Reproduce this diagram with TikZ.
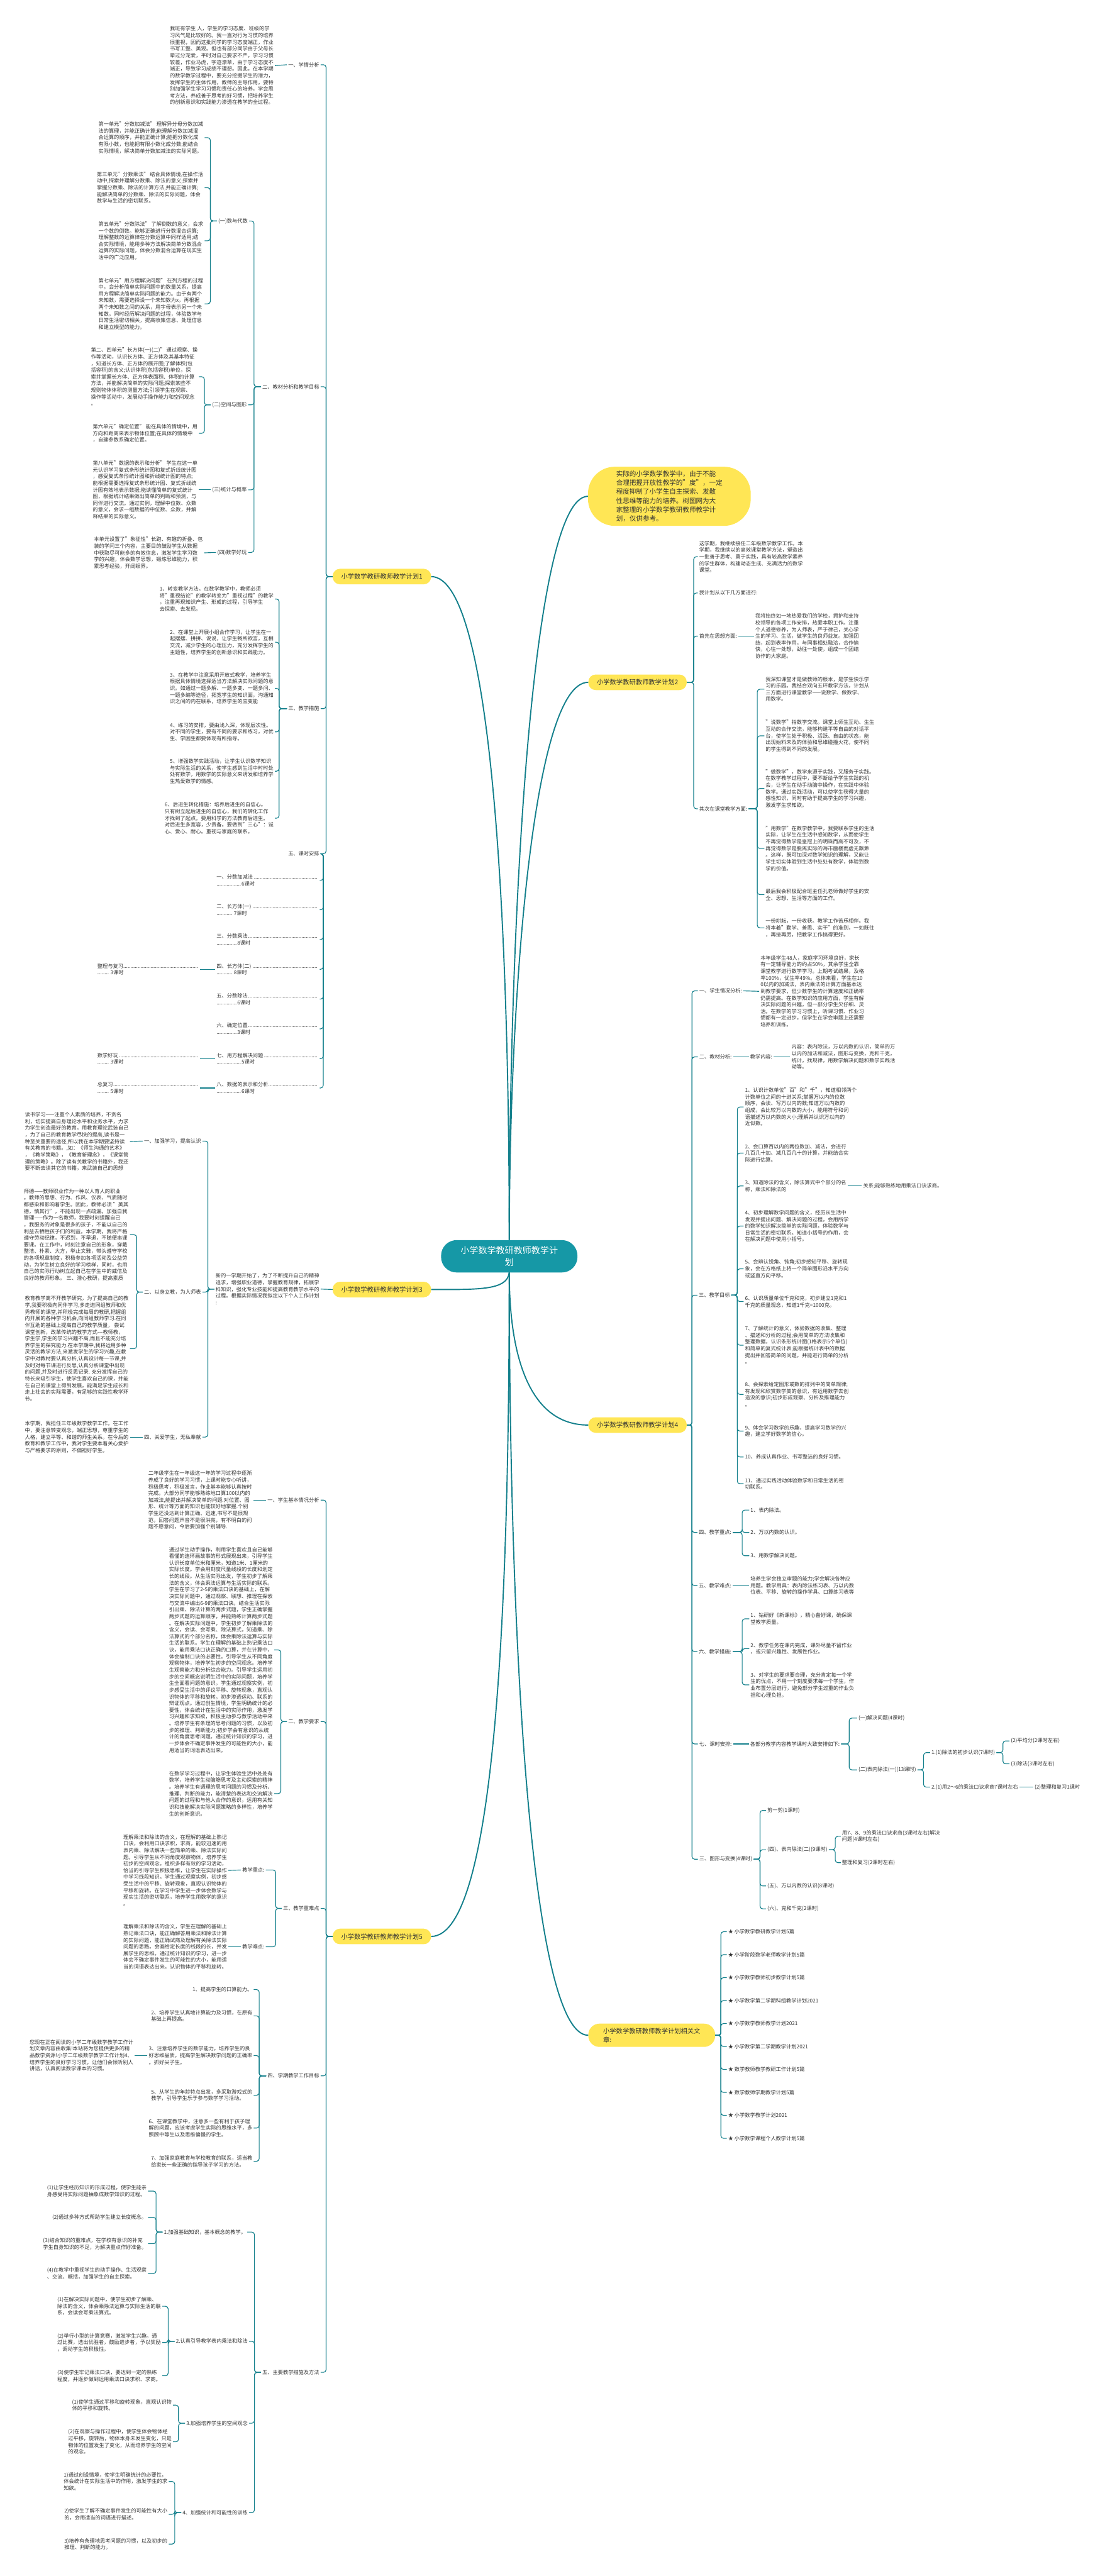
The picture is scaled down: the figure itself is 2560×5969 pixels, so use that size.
\documentclass[tikz,border=0pt]{standalone}
\usepackage{fontspec}
\setmainfont{Noto Sans CJK SC}

\definecolor{hubc}{RGB}{22,152,166}
\definecolor{linkc}{RGB}{20,128,140}
\definecolor{topc}{RGB}{255,230,85}
\definecolor{txtc}{RGB}{51,51,51}

% a row of dots for the lesson plan
\newcommand{\dotrow}[2]{\hbox to #1{#2\leaders\hbox{.}\hfill}}

\begin{document}
\begin{tikzpicture}[
		% one unit is one pixel of the sketch, y runs downwards
		x=1pt, y=-1pt,
		hub/.style={fill=hubc, text=white, rounded corners=36pt, minimum width=316pt, minimum height=75pt, align=center, font=\fontsize{20.5}{27}\selectfont},
		topic/.style={fill=topc, text=txtc, rounded corners=17pt, minimum width=228pt, minimum height=36pt, inner xsep=12pt, font=\fontsize{15}{20}\selectfont},
		blurb/.style={fill=topc, text=txtc, rounded corners=62pt, minimum width=377pt, minimum height=137pt, align=left, font=\fontsize{15.4}{20.7}\selectfont},
		leaf/.style={text=txtc, align=left, inner sep=3pt, font=\fontsize{12}{15.5}\selectfont},
		lleaf/.style={leaf, anchor=east},
		rleaf/.style={leaf, anchor=west},
		spoke/.style={draw=linkc, line width=2.8pt},
		link/.style={draw=linkc, line width=1.7pt, rounded corners=6pt}
		]
		
		\useasboundingbox (0,0) rectangle (2560,5969);
		
		% ==========================================
		% 0. Centre and the main branches
		% ==========================================
		\node[hub] (c) at (1180,2911) {小学数学教研教师教学计\\划};
		
		\node[blurb] (intro) at (1551,1150) {实际的小学数学教学中，由于不能\\合理把握开放性教学的"度"，一定\\程度抑制了小学生自主探索、发散\\性思维等能力的培养。树图网为大\\家整理的小学数学教研教师教学计\\划，仅供参考。};
		
		\node[topic, anchor=east] (p1) at (999,1336) {小学数学教研教师教学计划1};
		\node[topic, anchor=west] (p2) at (1363,1581) {小学数学教研教师教学计划2};
		\node[topic, anchor=east] (p3) at (999,2988) {小学数学教研教师教学计划3};
		\node[topic, anchor=west] (p4) at (1363,3302) {小学数学教研教师教学计划4};
		\node[topic, anchor=east] (p5) at (999,4487) {小学数学教研教师教学计划5};
		\node[topic, anchor=west, align=left, minimum width=294pt, minimum height=54pt, rounded corners=26pt] (p6) at (1363,4716) {小学数学教研教师教学计划相关文\\章:};
		
		\draw[spoke] (c.north) .. controls (1180,2150) and (1230,1150) .. (intro.west);
		\draw[spoke] (c.north) .. controls (1180,2250) and (1150,1336) .. (p1.east);
		\draw[spoke] (c.north) .. controls (1180,2350) and (1230,1581) .. (p2.west);
		\draw[spoke] (c.south) .. controls (1175,2990) and (1110,2988) .. (p3.east);
		\draw[spoke] (c.south) .. controls (1180,3150) and (1230,3302) .. (p4.west);
		\draw[spoke] (c.south) .. controls (1180,3700) and (1150,4487) .. (p5.east);
		\draw[spoke] (c.south) .. controls (1180,3800) and (1230,4716) .. (p6.west);
		
		% ==========================================
		% 1. Plan 1 (left, top)
		% ==========================================
		\node[lleaf] (p1a) at (743,150) {一、学情分析};
		\node[lleaf] (p1a1) at (637,152) {我班有学生 人，学生的学习态度、班级的学\\习风气是比较好的。我一直对行为习惯的培养\\很重视，因而这批同学的学习态度端正，作业\\书写工整、美观。但也有部分同学由于父母长\\辈过分宠爱，平时对自己要求不严，学习习惯\\较差，作业马虎，字迹潦草，由于学习态度不\\端正，导致学习成绩不理想。因此，在本学期\\的数学教学过程中，要充分挖掘学生的潜力，\\发挥学生的主体作用，教师的主导作用，要特\\别加强学生学习习惯和责任心的培养，学会思\\考方法，养成善于思考的好习惯，把培养学生\\的创新意识和实践能力渗透在教学的全过程。};
		\draw[link] (p1a.west) -- (p1a1.east);
		
		\node[lleaf] (p1b) at (743,896) {二、教材分析和教学目标};
		\node[lleaf] (p1b1) at (577,512) {(一)数与代数};
		\node[lleaf] (p1b1a) at (474,319) {第一单元"分数加减法" 理解异分母分数加减\\法的算理，并能正确计算;能理解分数加减混\\合运算的顺序，并能正确计算;能把分数化成\\有限小数，也能把有限小数化成分数;能结合\\实际情境，解决简单分数加减法的实际问题。};
		\node[lleaf] (p1b1b) at (474,435) {第三单元"分数乘法" 结合具体情境,在操作活\\动中,探索并理解分数乘、除法的意义;探索并\\掌握分数乘、除法的计算方法,并能正确计算;\\能解决简单的分数乘、除法的实际问题，体会\\数学与生活的密切联系。};
		\node[lleaf] (p1b1c) at (474,558) {第五单元"分数除法" 了解倒数的意义，会求\\一个数的倒数。能够正确进行分数混合运算;\\理解整数的运算律在分数运算中同样适用;结\\合实际情境，能用多种方法解决简单分数混合\\运算的实际问题，体会分数混合运算在现实生\\活中的广泛应用。};
		\node[lleaf] (p1b1d) at (474,704) {第七单元"用方程解决问题" 在列方程的过程\\中，会分析简单实际问题中的数量关系，提高\\用方程解决简单实际问题的能力。由于有两个\\未知数，需要选择设一个未知数为x，再根据\\两个未知数之间的关系，用字母表示另一个未\\知数。同时经历解决问题的过程，体验数学与\\日常生活密切相关，提高收集信息、处理信息\\和建立模型的能力。};
		\node[lleaf] (p1b2) at (575,938) {(二)空间与图形};
		\node[lleaf] (p1b2a) at (461,873) {第二、四单元"长方体(一)(二)" 通过观察、操\\作等活动，认识长方体、正方体及其基本特征\\，知道长方体、正方体的展开图;了解体积(包\\括容积)的含义;认识体积(包括容积)单位，探\\索并掌握长方体、正方体表面积、体积的计算\\方法，并能解决简单的实际问题;探索某些不\\规则物体体积的测量方法;引领学生在观察、\\操作等活动中，发展动手操作能力和空间观念\\。};
		\node[lleaf] (p1b2b) at (461,1004) {第六单元"确定位置" 能在具体的情境中，用\\方向和距离来表示物体位置;在具体的情境中\\，自建参数系确定位置。};
		\node[lleaf] (p1b3) at (575,1135) {(三)统计与概率};
		\node[lleaf] (p1b3a) at (461,1135) {第八单元"数据的表示和分析" 学生在这一单\\元认识学习复式条形统计图和复式折线统计图\\，感受复式条形统计图和折线统计图的特点;\\能根据需要选择复式条形统计图、复式折线统\\计图有效地表示数据;能读懂简单的复式统计\\图，根据统计结果做出简单的判断和预测，与\\同伴进行交流。通过实例，理解中位数、众数\\的意义，会求一组数据的中位数、众数，并解\\释结果的实际意义。};
		\node[lleaf] (p1b4) at (575,1280) {(四)数学好玩};
		\node[lleaf] (p1b4a) at (473,1281) {本单元设置了"象征性"长跑、有趣的折叠、包\\装的学问三个内容，主要目的鼓励学生从数据\\中获取尽可能多的有效信息，激发学生学习数\\学的兴趣，体会数学思想，锻炼思维能力，积\\累思考经验，开阔眼界。};
		\foreach \n in {p1b1,p1b2,p1b3,p1b4}
			\draw[link] (p1b.west) -- ++(-16,0) |- (\n.east);
		\foreach \n in {p1b1a,p1b1b,p1b1c,p1b1d}
			\draw[link] (p1b1.west) -- ++(-15,0) |- (\n.east);
		\foreach \n in {p1b2a,p1b2b}
			\draw[link] (p1b2.west) -- ++(-15,0) |- (\n.east);
		\draw[link] (p1b3.west) -- (p1b3a.east);
		\draw[link] (p1b4.west) -- (p1b4a.east);
		
		\node[lleaf] (p1c) at (743,1642) {三、教学措施};
		\node[lleaf] (p1c1) at (637,1388) {1、转变教学方法。在数学教学中，教师必须\\将"重视结论"的教学转变为"重视过程"的教学\\，注重再现知识产生、形成的过程，引导学生\\去探索、去发现。};
		\node[lleaf] (p1c2) at (637,1488) {2、在课堂上开展小组合作学习，让学生在一\\起摆摆、拼拼、说说，让学生畅所欲言，互相\\交流，减少学生的心理压力，充分发挥学生的\\主题性，培养学生的创新意识和实践能力。};
		\node[lleaf] (p1c3) at (637,1595) {3、在教学中注意采用开放式教学，培养学生\\根据具体情境选择适当方法解决实际问题的意\\识。如通过一题多解、一题多变、一题多问、\\一题多编等途径，拓宽学生的知识面，沟通知\\识之间的内在联系，培养学生的应变能};
		\node[lleaf] (p1c4) at (637,1696) {4、练习的安排，要由浅入深，体现层次性。\\对不同的学生，要有不同的要求和练习，对优\\生、学困生都要体现有所指导。};
		\node[lleaf] (p1c5) at (637,1787) {5、增强数学实践活动，让学生认识数学知识\\与实际生活的关系，使学生感到生活中时时处\\处有数学，用数学的实际意义来诱发和培养学\\生热爱数学的情感。};
		\node[lleaf] (p1c6) at (637,1896) {6、后进生转化措施：培养后进生的自信心。\\只有树立起后进生的自信心，我们的转化工作\\才找到了起点。要用科学的方法教育后进生。\\对后进生多宽容，少责备。要做到"三心"：诚\\心、爱心、耐心。重视与家庭的联系。};
		\foreach \k in {1,...,6}
			\draw[link] (p1c.west) -- ++(-18,0) |- (p1c\k.east);
		
		\node[lleaf] (p1e) at (743,1978) {五、课时安排};
		\node[lleaf] (p1e1) at (741,2040) {\dotrow{236pt}{一、分数加减法}\\\dotrow{58pt}{}6课时};
		\node[lleaf] (p1e2) at (741,2108) {\dotrow{236pt}{二、长方体(一)}\\\dotrow{40pt}{}7课时};
		\node[lleaf] (p1e3) at (741,2177) {\dotrow{236pt}{三、分数乘法}\\\dotrow{48pt}{}8课时};
		\node[lleaf] (p1e4) at (741,2246) {\dotrow{236pt}{四、长方体(二)}\\\dotrow{40pt}{}8课时};
		\node[lleaf] (p1e5) at (741,2315) {\dotrow{236pt}{五、分数除法}\\\dotrow{48pt}{}6课时};
		\node[lleaf] (p1e6) at (741,2384) {\dotrow{236pt}{六、确定位置}\\\dotrow{48pt}{}3课时};
		\node[lleaf] (p1e7) at (741,2453) {\dotrow{236pt}{七、用方程解决问题}\\\dotrow{58pt}{}5课时};
		\node[lleaf] (p1e8) at (741,2521) {\dotrow{236pt}{八、数据的表示和分析}\\\dotrow{58pt}{}6课时};
		\node[lleaf] (p1e4a) at (463,2246) {\dotrow{234pt}{整理与复习}\\\dotrow{30pt}{}3课时};
		\node[lleaf] (p1e7a) at (463,2453) {\dotrow{234pt}{数学好玩}\\\dotrow{30pt}{}3课时};
		\node[lleaf] (p1e8a) at (463,2521) {\dotrow{234pt}{总复习}\\\dotrow{30pt}{}5课时};
		\foreach \k in {1,...,8}
			\draw[link] (p1e.east) -- ++(6,0) |- (p1e\k.east);
		\foreach \k in {4,7,8}
			\draw[link] (p1e\k.west) -- (p1e\k a.east);
		
		\foreach \n in {p1a,p1b,p1c,p1e}
			\draw[link] (p1.west) -- ++(-15,0) |- (\n.east);
		
		% ==========================================
		% 2. Plan 2 (right, top)
		% ==========================================
		\node[rleaf] (p2a) at (1617,1290) {这学期，我继续接任二年级数学教学工作。本\\学期，我继续以的高效课堂教学方法，塑造出\\一批善于思考、勇于实践，具有较高数学素养\\的学生群体，构建动态生成、充满活力的数学\\课堂。};
		\node[rleaf] (p2b) at (1617,1374) {我计划从以下几方面进行:};
		\node[rleaf] (p2c) at (1617,1474) {首先在思想方面:};
		\node[rleaf] (p2c1) at (1747,1474) {我将始终如一地热爱我们的学校，拥护和支持\\校领导的各项工作安排，热爱本职工作。注重\\个人道德修养，为人师表，严于律己，关心学\\生的学习、生活，做学生的良师益友。加强团\\结，起到表率作用，与同事相处融洽，合作愉\\快，心往一处想，劲往一处使，组成一个团结\\协作的大家庭。};
		\draw[link] (p2c.east) -- (p2c1.west);
		\node[rleaf] (p2d) at (1617,1874) {其次在课堂教学方面:};
		\node[rleaf] (p2d1) at (1771,1597) {我深知课堂才是做教师的根本，是学生快乐学\\习的乐园。我结合双向五环教学方法，计划从\\三方面进行课堂教学——说数学、做数学、\\用数学。};
		\node[rleaf] (p2d2) at (1771,1705) {"说数学"指数学交流。课堂上师生互动、生生\\互动的合作交流，能够构建平等自由的对话平\\台，使学生处于积极、活跃、自由的状态，能\\出现始料未及的体验和思维碰撞火花，使不同\\的学生得到不同的发展。};
		\node[rleaf] (p2d3) at (1771,1827) {"做数学"，数学来源于实践，又服务于实践。\\在数学教学过程中，要不断给予学生实践的机\\会，让学生在动手动脑中操作，在实践中体验\\数学。通过实践活动，可以使学生获得大量的\\感性知识，同时有助于提高学生的学习兴趣，\\激发学生求知欲。};
		\node[rleaf] (p2d4) at (1771,1966) {"用数学"在数学教学中，我要联系学生的生活\\实际，让学生在生活中感知数学，从而使学生\\不再觉得数学是皇冠上的明珠而高不可及，不\\再觉得数学是脱离实际的海市蜃楼而虚无飘渺\\。这样，既可加深对数学知识的理解，又能让\\学生切实体验到生活中处处有数学，体验到数\\学的价值。};
		\node[rleaf] (p2d5) at (1771,2073) {最后我会积极配合班主任孔老师做好学生的安\\全、思想、生活等方面的工作。};
		\node[rleaf] (p2d6) at (1771,2150) {一份耕耘，一份收获。教学工作苦乐相伴。我\\将本着"勤学、善思、实干"的准则，一如既往\\，再接再厉，把教学工作搞得更好。};
		\foreach \k in {1,...,6}
			\draw[link] (p2d.east) -- ++(20,0) |- (p2d\k.west);
		
		\foreach \n in {p2a,p2b,p2c,p2d}
			\draw[link] (p2.east) -- ++(16,0) |- (\n.west);
		
		% ==========================================
		% 3. Plan 3 (left, middle)
		% ==========================================
		\node[lleaf] (p3a) at (743,2987) {新的一学期开始了，为了不断提升自己的精神\\追求，增强职业道德，掌握教育规律，拓展学\\科知识，强化专业技能和提高教育教学水平的\\过程。根据实际情况我拟定以下个人工作计划\\:};
		\draw[link] (p3.west) -- (p3a.east);
		
		\node[lleaf] (p3b) at (469,2644) {一、加强学习，提高认识};
		\node[lleaf] (p3b1) at (301,2645) {读书学习——注重个人素质的培养，不贪名\\利，切实提高自身理论水平和业务水平，力求\\为学生创造最好的教育。用教育理论武装自己\\，为了自己的教育教学尽快的提高,读书是一\\种至关重要的途径,所以我在本学期要坚持读\\有关教育的书籍。,如：《师生沟通的艺术》\\，《教学策略》，《教育新理念》，《课堂管\\理的策略》。除了读有关教学的书籍外，我还\\要不断去读其它的书籍，来武装自己的思想};
		\draw[link] (p3b.west) -- (p3b1.east);
		
		\node[lleaf] (p3c) at (469,2994) {二、以身立教，为人师表};
		\node[lleaf] (p3c1) at (301,2861) {师德——教师职业作为一种以人育人的职业\\。教师的思想、行为、作风、仪表、气质随时\\都感染和影响着学生。因此，教师必须 "美其\\德，慎其行"，不能出现一点疏漏。加强自我\\管理——作为一名教师，我要时刻提醒自己\\，我服务的对象是很多的孩子，不能以自己的\\利益去牺牲孩子们的利益。本学期，我将严格\\遵守劳动纪律，不迟到，不早退，不随便串课\\要课。在工作中，时刻注意自己的形象，穿戴\\整洁、朴素、大方，举止文雅，带头遵守学校\\的各项规章制度，积极参加各项活动及公益劳\\动，为学生树立良好的学习榜样，同时，也用\\自己的实际行动树立起自己在学生中的威信及\\良好的教师形象。 三、潜心教研，提高素质};
		\node[lleaf] (p3c2) at (301,3125) {教育教学离不开教学研究，为了提高自己的教\\学,我要积极向同伴学习,多走进同组教师和优\\秀教师的课堂,并积极完成每周的教研,把握组\\内开展的各种学习机会,向同组教师学习.在同\\伴互助的基础上提高自己的教学质量， 尝试\\课堂创新，改革传统的教学方式{-}{-}{-}教师教，\\学生学,学生的学习兴趣不高,而且不能充分培\\养学生的探究能力.在本学期中,我将运用多种\\灵活的教学方法,来激发学生的学习兴趣,在教\\学中对教材要认真分析,认真设计每一节课,并\\及时对每节课进行反思,认真分析课堂中出现\\的问题,并及时进行反思记录. 充分发挥自己的\\特长来吸引学生，使学生喜欢自己的课，并能\\在自己的课堂上得到发展，能满足学生成长和\\走上社会的实际需要，有足够的实践性教学环\\节。};
		\foreach \n in {p3c1,p3c2}
			\draw[link] (p3c.west) -- ++(-14,0) |- (\n.east);
		
		\node[lleaf] (p3d) at (469,3330) {四、关爱学生，无私奉献};
		\node[lleaf] (p3d1) at (301,3330) {本学期，我担任三年级数学教学工作。在工作\\中，要注意转变观念，端正思想，尊重学生的\\人格，建立平等、和谐的师生关系。在今后的\\教育和教学工作中，我对学生要本着关心爱护\\与严格要求的原则，不偏袒好学生。};
		\draw[link] (p3d.west) -- (p3d1.east);
		
		\foreach \n in {p3b,p3c,p3d}
			\draw[link] (p3a.west) -- ++(-15,0) |- (\n.east);
		
		% ==========================================
		% 4. Plan 4 (right, middle)
		% ==========================================
		\node[rleaf] (p4a) at (1617,2296) {一、学生情况分析:};
		\node[rleaf] (p4a1) at (1759,2297) {本年级学生48人，家庭学习环境良好，家长\\有一定辅导能力的约占50\%，其余学生全靠\\课堂教学进行数学学习。上期考试结果，及格\\率100\%，优生率49\%。总体来看，学生在10\\0以内的加减法，表内乘法的计算方面基本达\\到教学要求，但少数学生的计算速度和正确率\\仍需提高。在数学知识的应用方面，学生有解\\决实际问题的兴趣，但一部分学生欠仔细、灵\\活。在数学的学习习惯上，听课习惯、作业习\\惯都有一定进步，但学生在学会审题上还需要\\培养和训练。};
		\draw[link] (p4a.east) -- (p4a1.west);
		
		\node[rleaf] (p4b) at (1617,2449) {二、教材分析:};
		\node[rleaf] (p4b1) at (1735,2449) {教学内容:};
		\node[rleaf] (p4b2) at (1831,2449) {内容：表内除法，万以内数的认识，简单的万\\以内的加法和减法，图形与变换，克和千克，\\统计，找规律，用数学解决问题和数学实践活\\动等。};
		\draw[link] (p4b.east) -- (p4b1.west);
		\draw[link] (p4b1.east) -- (p4b2.west);
		
		\node[rleaf] (p4c) at (1616,3001) {三、教学目标};
		\node[rleaf] (p4c1) at (1723,2565) {1、认识计数单位"百"和"千"，知道相邻两个\\计数单位之间的十进关系;掌握万以内的位数\\顺序，会读、写万以内的数;知道万以内数的\\组成，会比较万以内数的大小，能用符号和词\\语描述万以内数的大小;理解并认识万以内的\\近似数。};
		\node[rleaf] (p4c2) at (1723,2672) {2、会口算百以内的两位数加、减法，会进行\\几百几十加、减几百几十的计算，并能结合实\\际进行估算。};
		\node[rleaf] (p4c3) at (1723,2748) {3、知道除法的含义，除法算式中个部分的名\\称，乘法和除法的};
		\node[rleaf] (p4c3a) at (1997,2748) {关系;能够熟练地用乘法口诀求商。};
		\node[rleaf] (p4c4) at (1723,2841) {4、初步理解数学问题的含义，经历从生活中\\发现并提出问题、解决问题的过程，会用所学\\的数学知识解决简单的实际问题，体验数学与\\日常生活的密切联系。知道小括号的作用，会\\在解决问题中使用小括号。};
		\node[rleaf] (p4c5) at (1723,2940) {5、会辨认锐角、钝角;初步感知平移、旋转现\\象，会在方格纸上将一个简单图形沿水平方向\\或竖直方向平移。};
		\node[rleaf] (p4c6) at (1723,3016) {6、认识质量单位千克和克，初步建立1克和1\\千克的质量观念，知道1千克=1000克。};
		\node[rleaf] (p4c7) at (1723,3117) {7、了解统计的意义，体验数据的收集、整理\\、描述和分析的过程;会用简单的方法收集和\\整理数据，认识条形统计图(1格表示5个单位)\\和简单的复式统计表;能根据统计表中的数据\\提出并回答简单的问题，并能进行简单的分析\\。};
		\node[rleaf] (p4c8) at (1723,3231) {8、会探索给定图形或数的排列中的简单规律;\\有发现和欣赏数学美的意识，有运用数学去创\\造没的意识;初步形成观察、分析及推理能力\\。};
		\node[rleaf] (p4c9) at (1723,3316) {9、体会学习数学的乐趣，提高学习数学的兴\\趣，建立学好数学的信心。};
		\node[rleaf] (p4c10) at (1723,3376) {10、养成认真作业、书写整洁的良好习惯。};
		\node[rleaf] (p4c11) at (1723,3438) {11、通过实践活动体验数学和日常生活的密\\切联系。};
		\foreach \k in {1,...,11}
			\draw[link] (p4c.east) -- ++(14,0) |- (p4c\k.west);
		\draw[link] (p4c3.east) -- (p4c3a.west);
		
		\node[rleaf] (p4d) at (1616,3551) {四、教学重点:};
		\node[rleaf] (p4d1) at (1736,3499) {1、表内除法。};
		\node[rleaf] (p4d2) at (1736,3551) {2、万以内数的认识。};
		\node[rleaf] (p4d3) at (1736,3605) {3、用数学解决问题。};
		\foreach \k in {1,2,3}
			\draw[link] (p4d.east) -- ++(22,0) |- (p4d\k.west);
		
		\node[rleaf] (p4e) at (1616,3674) {五、教学难点:};
		\node[rleaf] (p4e1) at (1736,3674) {培养生学会独立审题的能力;学会解决各种应\\用题。教学用具：表内除法练习表、万以内数\\位表、平移、旋转的操作学具、口算练习表等};
		\draw[link] (p4e.east) -- (p4e1.west);
		
		\node[rleaf] (p4f) at (1616,3827) {六、教学措施:};
		\node[rleaf] (p4f1) at (1736,3751) {1、钻研好《新课标》，精心备好课，确保课\\堂教学质量。};
		\node[rleaf] (p4f2) at (1736,3820) {2、教学任务在课内完成，课外尽量不留作业\\，或只留兴趣性、发展性作业。};
		\node[rleaf] (p4f3) at (1736,3904) {3、对学生的要求要合理，充分肯定每一个学\\生的优点，不用一个刻度要求每一个学生，作\\业布置分层进行，避免部分学生过重的作业负\\担和心理负担。};
		\foreach \k in {1,2,3}
			\draw[link] (p4f.east) -- ++(22,0) |- (p4f\k.west);
		
		\node[rleaf] (p4g) at (1617,4041) {七、课时安排:};
		\node[rleaf] (p4g1) at (1735,4041) {各部分教学内容教学课时大致安排如下:};
		\node[rleaf] (p4g1a) at (1986,3981) {(一)解决问题(4课时)};
		\node[rleaf] (p4g1b) at (1986,4101) {(二)表内除法(一)(13课时)};
		\node[rleaf] (p4g1b1) at (2155,4061) {1.(1)除法的初步认识(7课时)};
		\node[rleaf] (p4g1b1a) at (2339,4034) {(2)平均分(2课时左右)};
		\node[rleaf] (p4g1b1b) at (2339,4087) {(3)除法(3课时左右)};
		\node[rleaf] (p4g1b2) at (2155,4141) {2.(1)用2～6的乘法口诀求商7课时左右};
		\node[rleaf] (p4g1b2a) at (2394,4141) {(2)整理和复习1课时};
		\draw[link] (p4g.east) -- (p4g1.west);
		\foreach \n in {p4g1a,p4g1b}
			\draw[link] (p4g1.east) -- ++(19,0) |- (\n.west);
		\foreach \n in {p4g1b1,p4g1b2}
			\draw[link] (p4g1b.east) -- ++(14,0) |- (\n.west);
		\foreach \n in {p4g1b1a,p4g1b1b}
			\draw[link] (p4g1b1.east) -- ++(15,0) |- (\n.west);
		\draw[link] (p4g1b2.east) -- (p4g1b2a.west);
		
		\node[rleaf] (p4h) at (1617,4308) {三、图形与变换(4课时)};
		\node[rleaf] (p4h1) at (1775,4195) {剪一剪(1课时)};
		\node[rleaf] (p4h2) at (1775,4286) {(四)、表内除法(二)(9课时)};
		\node[rleaf] (p4h3) at (1775,4370) {(五)、万以内数的认识(8课时)};
		\node[rleaf] (p4h4) at (1775,4423) {(六)、克和千克(2课时)};
		\node[rleaf] (p4h2a) at (1948,4255) {用7、8、9的乘法口诀求商(3课时左右)解决\\问题(4课时左右)};
		\node[rleaf] (p4h2b) at (1948,4316) {整理和复习(2课时左右)};
		\foreach \k in {1,...,4}
			\draw[link] (p4h.east) -- ++(15,0) |- (p4h\k.west);
		\foreach \n in {p4h2a,p4h2b}
			\draw[link] (p4h2.east) -- ++(15,0) |- (\n.west);
		
		\foreach \n in {p4a,p4b,p4c,p4d,p4e,p4f,p4g,p4h}
			\draw[link] (p4.east) -- ++(12,0) |- (\n.west);
		
		% ==========================================
		% 5. Plan 5 (left, bottom)
		% ==========================================
		\node[lleaf] (p5a) at (743,3476) {一、学生基本情况分析};
		\node[lleaf] (p5a1) at (587,3476) {二年级学生在一年级这一年的学习过程中逐渐\\养成了良好的学习习惯，上课时能专心听讲，\\积极思考，积极发言，作业基本能够认真按时\\完成。大部分同学能够熟练地口算100以内的\\加减法,能提出并解决简单的问题.对位置、图\\形、统计等方面的知识也能较好地掌握.个别\\学生还没达到计算正确、迅速,书写不是很规\\范，回答问题声音不是很洪亮，有不明白的问\\题不愿意问，今后要加强个别辅导.};
		\draw[link] (p5a.west) -- (p5a1.east);
		
		\node[lleaf] (p5b) at (743,3989) {二、教学要求};
		\node[lleaf] (p5b1) at (635,3823) {通过学生动手操作，利用学生喜欢且自己能够\\看懂的连环画故事的形式展现出来，引导学生\\认识长度单位米和厘米，知道1米、1厘米的\\实际长度。学会用刻度尺量线段的长度和划定\\长的线段。从生活实际出发，学生初步了解乘\\法的含义，体会乘法运算与生活实际的联系。\\学生在学习了2-5的乘法口诀的基础上，在解\\决实际问题中，通过观察、联想、推理在探索\\与交流中编出6-9的乘法口诀。结合生活实际\\引出乘、除法计算的两步式题，学生正确掌握\\两步式题的运算顺序，并能熟练计算两步式题\\。在解决实际问题中，学生初步了解乘除法的\\含义，会读、会写乘、除法算式，知道乘、除\\法算式的个部分名称，体会乘除法运算与实际\\生活的联系。学生在理解的基础上熟记乘法口\\诀，能用乘法口诀正确的口算，并在计算中，\\体会编制口诀的必要性。引导学生从不同角度\\观察物体，培养学生初步的空间观念。培养学\\生观察能力和分析综合能力。引导学生运用初\\步的空间概念说明生活中的实际问题，培养学\\生全面看问题的意识。学生通过观察实例，初\\步感受生活中的评议平移、旋转现象，直观认\\识物体的平移和旋转。初步渗透运动、联系的\\辩证观点。通过创生情境，学生明确统计的必\\要性，体会统计在生活中的实际作用，激发学\\习兴趣和求知欲，积极主动参与教学活动中来\\。培养学生有条理的思考问题的习惯，以及初\\步的推理、判断能力;初步学会有意识的从统\\计的角度思考问题。通过统计知识的学习，进\\一步体会不确定事件发生的可能性的大小，能\\用适当的词语表达出来。};
		\node[lleaf] (p5b2) at (635,4156) {在数学学习过程中，让学生体验生活中处处有\\数学，培养学生动脑筋思考及主动探索的精神\\。培养学生有调理的思考问题的习惯及分析、\\推理、判断的能力，能清楚的表达和交流解决\\问题的过程和与他人合作的意识，运用有关知\\识和技能解决实际问题策略的多样性，培养学\\生的创新意识。};
		\foreach \n in {p5b1,p5b2}
			\draw[link] (p5b.west) -- ++(-14,0) |- (\n.east);
		
		\node[lleaf] (p5c) at (743,4422) {三、教学重难点};
		\node[lleaf] (p5c1) at (616,4333) {教学重点:};
		\node[lleaf] (p5c1a) at (529,4334) {理解乘法和除法的含义，在理解的基础上熟记\\口诀，会利用口诀求积，求商，能较迅速的用\\表内乘、除法解决一些简单的乘、除法实际问\\题。引导学生从不同角度观察物体，培养学生\\初步的空间观念。组织多样有效的学习活动，\\恰当的引导学生积极思维，让学生在实际操作\\中学习线段知识。学生通过观察实例，初步感\\受生活中的平移、旋转现象，直观认识物体的\\平移和旋转。在学习中学生进一步体会数学与\\现实生活的密切联系，培养学生用数学的意识\\。};
		\node[lleaf] (p5c2) at (616,4511) {教学难点:};
		\node[lleaf] (p5c2a) at (529,4511) {理解乘法和除法的含义，学生在理解的基础上\\熟记乘法口诀，能正确解答用乘法和除法计算\\的实际问题，能正确试商及理解有关除法实际\\问题的思路。会画给定长度的线段的长，并发\\展学生的思维。通过统计知识的学习，进一步\\体会不确定事件发生的可能性的大小，能用适\\当的词语表达出来。认识物体的平移和旋转。};
		\foreach \n in {p5c1,p5c2}
			\draw[link] (p5c.west) -- ++(-14,0) |- (\n.east);
		\draw[link] (p5c1.west) -- (p5c1a.east);
		\draw[link] (p5c2.west) -- (p5c2a.east);
		
		\node[lleaf] (p5d) at (743,4810) {四、学期教学工作目标};
		\node[lleaf] (p5d1) at (588,4610) {1、提高学生的口算能力。};
		\node[lleaf] (p5d2) at (588,4671) {2、培养学生认真地计算能力及习惯，在原有\\基础上再提高。};
		\node[lleaf] (p5d3) at (588,4763) {3、注意培养学生的数学能力，培养学生的良\\好思维品质，提高学生解决数学问题的正确率\\。抓好尖子生。};
		\node[lleaf] (p5d4) at (588,4855) {5、从学生的年龄特点出发，多采取游戏式的\\教学，引导学生乐于参与数学学习活动。};
		\node[lleaf] (p5d5) at (588,4931) {6、在课堂教学中，注意多一些有利于孩子理\\解的问题，应该考虑学生实际的思维水平，多\\照顾中等生以及思维偏慢的学生。};
		\node[lleaf] (p5d6) at (588,5008) {7、加强家庭教育与学校教育的联系，适当教\\给家长一些正确的指导孩子学习的方法。};
		\node[lleaf] (p5d3a) at (312,4763) {您现在正在阅读的小学二年级数学教学工作计\\划文章内容由收集!本站将为您提供更多的精\\品教学资源!小学二年级数学教学工作计划4、\\培养学生的良好学习习惯，让他们会倾听别人\\讲话，认真阅读数学课本的习惯。};
		\foreach \k in {1,...,6}
			\draw[link] (p5d.west) -- ++(-16,0) |- (p5d\k.east);
		\draw[link] (p5d3.west) -- (p5d3a.east);
		
		\node[lleaf] (p5e) at (743,5497) {五、主要教学措施及方法};
		\node[lleaf] (p5e1) at (573,5172) {1.加强基础知识，基本概念的教学。};
		\node[lleaf] (p5e1a) at (343,5077) {(1)让学生经历知识的形成过程，使学生能亲\\身感受将实际问题抽象成数学知识的过程。};
		\node[lleaf] (p5e1b) at (343,5138) {(2)通过多种方式帮助学生建立长度概念。};
		\node[lleaf] (p5e1c) at (343,5199) {(3)结合知识的重难点，在学校有意识的补充\\学生自身知识的不足，为解决重点作好准备。};
		\node[lleaf] (p5e1d) at (343,5268) {(4)在教学中重视学生的动手操作、生活观察\\、交流、概括，加强学生的自主探索。};
		\node[lleaf] (p5e2) at (577,5425) {2.认真引导教学表内乘法和除法};
		\node[lleaf] (p5e2a) at (376,5344) {(1)在解决实际问题中，使学生初步了解乘、\\除法的含义，体会乘除法运算与实际生活的联\\系，会读会写乘法算式。};
		\node[lleaf] (p5e2b) at (376,5428) {(2)举行小型的计算竞赛，激发学生兴趣。通\\过比赛，选出优胜者，鼓励进步者，予以奖励\\，调动学生的积极性。};
		\node[lleaf] (p5e2c) at (376,5505) {(3)使学生牢记乘法口诀，要达到一定的熟练\\程度，并逐步做到运用乘法口诀求积、求商。};
		\node[lleaf] (p5e3) at (577,5615) {3.加强培养学生的空间观念};
		\node[lleaf] (p5e3a) at (401,5573) {(1)使学生通过平移和旋转现象，直观认识物\\体的平移和旋转。};
		\node[lleaf] (p5e3b) at (401,5658) {(2)在观察与操作过程中，使学生体会物体经\\过平移，旋转后，物体本身未发生变化，只是\\物体的位置发生了变化，从而培养学生的空间\\的观念。};
		\node[lleaf] (p5e4) at (577,5822) {4、加强统计和可能性的训练};
		\node[lleaf] (p5e4a) at (391,5750) {1)通过创设情境，使学生明确统计的必要性，\\体会统计在实际生活中的作用，激发学生的求\\知欲。};
		\node[lleaf] (p5e4b) at (391,5826) {2)使学生了解不确定事件发生的可能性有大小\\的，会用适当的词语进行描述。};
		\node[lleaf] (p5e4c) at (391,5895) {3)培养有条理地思考问题的习惯，以及初步的\\推理、判断的能力。};
		\foreach \k in {1,...,4}
			\draw[link] (p5e.west) -- ++(-15,0) |- (p5e\k.east);
		\foreach \n in {a,b,c,d}
			\draw[link] (p5e1.west) -- ++(-15,0) |- (p5e1\n.east);
		\foreach \n in {a,b,c}
			\draw[link] (p5e2.west) -- ++(-15,0) |- (p5e2\n.east);
		\foreach \n in {a,b}
			\draw[link] (p5e3.west) -- ++(-15,0) |- (p5e3\n.east);
		\foreach \n in {a,b,c}
			\draw[link] (p5e4.west) -- ++(-15,0) |- (p5e4\n.east);
		
		\foreach \n in {p5a,p5b,p5c,p5d,p5e}
			\draw[link] (p5.west) -- ++(-15,0) |- (\n.east);
		
		% ==========================================
		% 6. Related articles (right, bottom)
		% ==========================================
		\foreach \t [count=\k] in {小学数学教研教学计划5篇, 小学阶段数学老师教学计划5篇, 小学数学教师初步教学计划5篇, 小学数学第二学期科组教学计划2021, 小学数学教师教学计划2021, 小学数学第二学期教学计划2021, 数学教师教学教研工作计划5篇, 数学教师学期教学计划5篇, 小学数学教学计划2021, 小学数学课程个人教学计划5篇} {
			\node[rleaf] (p6\k) at (1684,{4476+(\k-1)*53.2}) {★ \t};
			\draw[link] (p6.east) -- ++(13,0) |- (p6\k.west);
		}
		
	\end{tikzpicture}
\end{document}
